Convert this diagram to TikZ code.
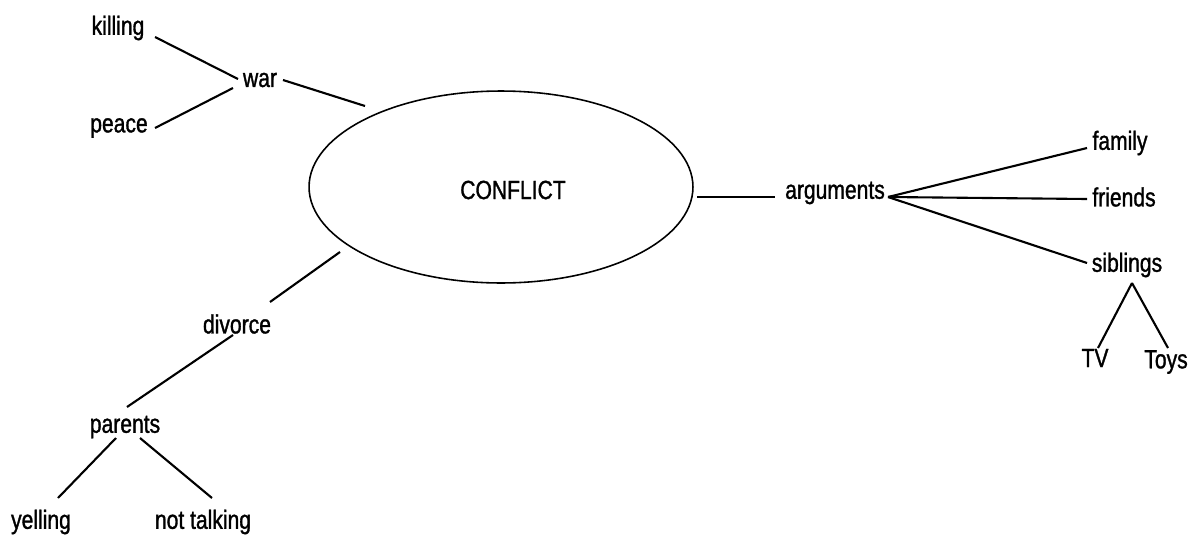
\documentclass[tikz,border=0pt]{standalone}
\usepackage{fontspec}
\setmainfont{Liberation Sans}[FakeStretch=0.8,FakeBold=1.2]
\usetikzlibrary{shapes.geometric,calc}
\begin{document}
\begin{tikzpicture}[x=0.02cm,y=-0.02cm,
  word/.style={inner sep=0pt,font=\fontsize{15pt}{18pt}\selectfont},
  link/.style={line width=1.2pt},
  hub/.style={draw,ellipse,line width=0.9pt,minimum width=7.68cm,
    minimum height=3.84cm,inner sep=0pt,outer sep=0pt}]
\useasboundingbox (0,0) rectangle (1192,534);

% central idea
\node[hub] (conflict) at (501,187) {};
\node[word] (conflictlabel) at (513,190) {CONFLICT};

% war branch
\node[word] (war) at (260,80) {war};
\node[word] (killing) at (118,28) {killing};
\node[word] (peace) at (119,128) {peace};

% arguments branch
\node[word] (arguments) at (835,193) {arguments};
\node[word] (family) at (1120,143) {family};
\node[word] (friends) at (1124,197) {friends};
\node[word] (siblings) at (1127,265) {siblings};
\node[word] (tv) at (1095,358) {TV};
\node[word] (toys) at (1166,362) {Toys};

% divorce branch
\node[word] (divorce) at (237,324) {divorce};
\node[word] (parents) at (125,427) {parents};
\node[word] (yelling) at (41,522) {yelling};
\node[word] (nottalking) at (203,522) {not talking};

% connectors
\draw[link] ($(killing)+(37,9)$) -- ($(war)+(-22,-1)$);
\draw[link] ($(peace)+(36,0)$) -- ($(war)+(-27,8)$);
\draw[link] ($(war)+(23,0)$) -- ($(conflict)+(-136,-81)$);

\draw[link] ($(conflict)+(196,10)$) -- ($(arguments)+(-60,4)$);
\draw[link] ($(arguments)+(53,4)$) -- ($(family)+(-33,5)$);
\draw[link] ($(arguments)+(53,4)$) -- ($(friends)+(-37,2)$);
\draw[link] ($(arguments)+(53,4)$) -- ($(siblings)+(-40,-2)$);
\draw[link] ($(siblings)+(5,18)$) -- ($(tv)+(3,-10)$);
\draw[link] ($(siblings)+(5,18)$) -- ($(toys)+(2,-14)$);

\draw[link] ($(conflict)+(-161,65)$) -- ($(divorce)+(33,-22)$);
\draw[link] ($(divorce)+(-4,11)$) -- ($(parents)+(2,-20)$);
\draw[link] ($(parents)+(-9,11)$) -- ($(yelling)+(17,-24)$);
\draw[link] ($(parents)+(15,11)$) -- ($(nottalking)+(9,-24)$);
\end{tikzpicture}
\end{document}
